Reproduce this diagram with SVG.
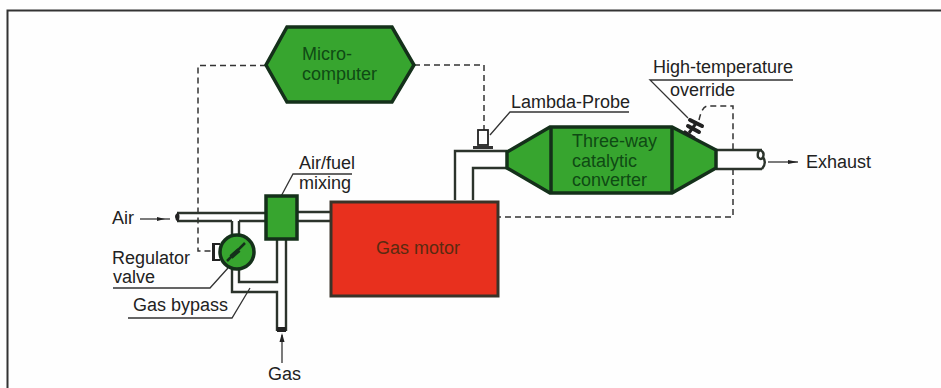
<svg xmlns="http://www.w3.org/2000/svg" width="941" height="388" viewBox="0 0 941 388">
<style>
text{font-family:"Liberation Sans",Arial,sans-serif;font-size:18px;fill:#222}
.in{fill:#0f4a14}
.g{fill:#37a52f;stroke:#14301a;stroke-width:3.500;stroke-linejoin:miter}
.p{fill:none;stroke:#2b332b;stroke-width:2.400}
.d{fill:none;stroke:#333;stroke-width:1.500;stroke-dasharray:6 4}
.l{fill:none;stroke:#333;stroke-width:1.300}
.t{fill:#222;stroke:none}
</style>
<rect x="0" y="0" width="941" height="388" fill="#fefefe"/>
<path d="M7.500 388V10.500H941" fill="none" stroke="#333" stroke-width="2"/>
<g id="connectors">
<path class="d" d="M266 65.500H198V251H212"/>
<path class="d" d="M414 65H484V130"/>
<path class="d" d="M699 120Q702 106 708 106H733V150M733 169V217H498"/>
<path class="l" d="M113 288H210L228 268"/>
<path class="l" d="M128 318H232L250 288"/>
<path class="l" d="M278 202L293 174H352"/>
<path class="l" d="M490 135L510 112H629"/>
<path class="l" d="M793 80H650L688 118"/>
<path class="l" d="M140 219H170"/>
<path class="t" d="M157 217l8 2-8 2z"/>
<path class="l" d="M768 162H798"/>
<path class="t" d="M788 160l10 2-10 2z"/>
<path class="l" d="M282 363V335"/>
<path class="t" d="M282 333l-2.500 9h5z"/>
</g>
<g id="pipes">
<path class="p" d="M177 213H266M177 221H232M239 221H266M297 212H331M297 221H331"/>
<path class="t" d="M178 212Q172 217 178 222Q181 217 178 212z"/>
<path class="p" d="M232 221V236M239 221V236"/>
<path class="p" d="M232 268V292H277V331M239 268V282H277V239M286 239V331"/>
<path class="t" d="M277 327h9v5h-9z"/>
<path class="p" d="M455 200V151H507M473 200V168H507"/>
<path class="p" d="M716 150H762M716 169H762"/>
<path class="p" d="M760 150Q765 152 763 157Q761 161 758 157Q757 152 760 150M763 157Q767 163 762 169"/>
</g>
<g id="regulator-valve">
<path class="t" d="M212 243h8v2h-5v14h5v2h-8z"/>
<circle class="g" cx="237" cy="252" r="17" stroke-width="2.500"/>
<path d="M227 261L245 243" stroke="#14301a" stroke-width="2.500" fill="none"/>
<path d="M231 257L239 250" stroke="#14301a" stroke-width="4.500" fill="none"/>
<text x="112" y="264">Regulator</text>
<text x="113" y="283">valve</text>
</g>
<g id="air-label"><text x="112" y="224">Air</text></g>
<g id="mixing">
<rect class="g" x="266" y="196" width="31" height="43"/>
<text x="299" y="169">Air/fuel</text>
<text x="299" y="189">mixing</text>
</g>
<g id="gas-bypass"><text x="133" y="311">Gas bypass</text></g>
<g id="gas"><text x="268" y="380">Gas</text></g>
<g id="gas-motor">
<rect x="331" y="202" width="167" height="94" fill="#e8301e" stroke="#3a3328" stroke-width="3"/>
<text x="376" y="254" style="fill:#5a2a10">Gas motor</text>
</g>
<g id="microcomputer">
<path class="g" d="M287 27H392L414 65L392 102H287L266 65Z"/>
<text x="302" y="60" class="in">Micro-</text>
<text x="302" y="80" class="in">computer</text>
</g>
<g id="catalytic-converter">
<path class="g" d="M507 152L550 127H672L716 150V168L672 193H550L507 168Z"/>
<path d="M551 127V193M672 127V193" stroke="#14301a" stroke-width="3.500" fill="none"/>
<text x="572" y="147" class="in">Three-way</text>
<text x="572" y="167" class="in">catalytic</text>
<text x="572" y="186" class="in">converter</text>
</g>
<g id="lambda-probe">
<rect x="478" y="130" width="10" height="15" fill="#fff" stroke="#222" stroke-width="1.800"/>
<path d="M473 147.500H493" stroke="#333" stroke-width="3"/>
<text x="511" y="108">Lambda-Probe</text>
</g>
<g id="override">
<path d="M684 131L695 138" stroke="#222" stroke-width="2.500" fill="none"/>
<path d="M689 133L697 122" stroke="#222" stroke-width="3" fill="none"/>
<path d="M690 120L702 126M688 126L699 132" stroke="#222" stroke-width="4" stroke-linecap="round" fill="none"/>
<text x="653" y="73">High-temperature</text>
<text x="670" y="96">override</text>
</g>
<g id="exhaust"><text x="806" y="168">Exhaust</text></g>
</svg>
